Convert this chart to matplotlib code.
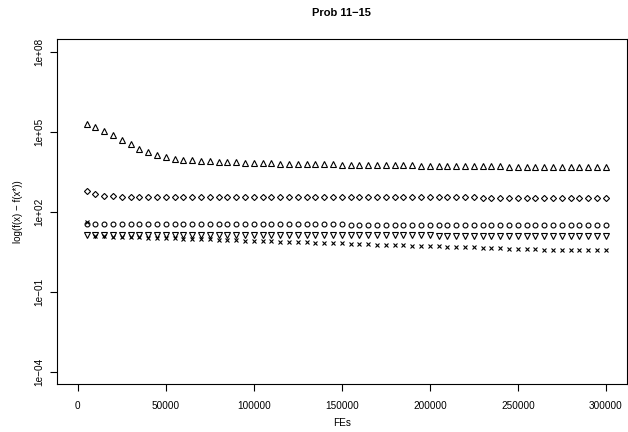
import numpy as np
import matplotlib
matplotlib.use("Agg")
import matplotlib.pyplot as plt

plt.rcParams['font.family'] = ['Liberation Sans', 'DejaVu Sans']

# function evaluations, every 5000 up to 300000
fes = np.arange(5000, 300001, 5000)

# log10 of error per problem
tri_up = [5.31, 5.18, 5.03, 4.88, 4.68, 4.53, 4.37, 4.24, 4.14, 4.06, 4.00, 3.96, 3.93, 3.91,
          3.89, 3.88, 3.87, 3.86, 3.85, 3.84, 3.83, 3.82, 3.81, 3.81, 3.80, 3.79, 3.79, 3.78, 3.78, 3.77,
          3.77, 3.76, 3.76, 3.75, 3.75, 3.74, 3.74, 3.74, 3.73, 3.73, 3.73, 3.72, 3.72, 3.72, 3.71,
          3.71, 3.71, 3.71, 3.70, 3.70, 3.70, 3.70, 3.69, 3.69, 3.69, 3.69, 3.68, 3.68, 3.68, 3.68]
diamond = [2.77, 2.68, 2.60, 2.58, 2.57, 2.57, 2.56, 2.56, 2.56, 2.56] + [2.55] * 20 + [2.54] * 15 + [2.53] * 15
circle = [1.55] * 10 + [1.54] * 10 + [1.53] * 10 + [1.52] * 10 + [1.51] * 10 + [1.50] * 10
tri_down = [1.12] * 20 + [1.11] * 20 + [1.10] * 20
cross = [1.62, 1.10, 1.08, 1.07, 1.06, 1.05, 1.04, 1.03, 1.02, 1.01,
         1.00, 0.99, 0.98, 0.97, 0.96, 0.95, 0.94, 0.93, 0.92, 0.91,
         0.90, 0.89, 0.88, 0.87, 0.86, 0.85, 0.84, 0.83, 0.82, 0.81,
         0.80, 0.79, 0.78, 0.77, 0.76, 0.75, 0.74, 0.73, 0.72, 0.71,
         0.70, 0.69, 0.68, 0.67, 0.66, 0.65, 0.64, 0.63, 0.62, 0.61,
         0.60, 0.59, 0.58, 0.58, 0.57, 0.57, 0.56, 0.56, 0.55, 0.55]

yticks = [1e-4, 1e-1, 1e2, 1e5, 1e8]
ylabels = ["1e\u221204", "1e\u221201", "1e+02", "1e+05", "1e+08"]
xticks = [0, 50000, 100000, 150000, 200000, 250000, 300000]

W, H = 628, 432
fig = plt.figure(figsize=(W / 100, H / 100), dpi=100)
ax = fig.add_axes([56.7 / W, 1 - 384.3 / H, (627 - 56.7) / W, (384.3 - 39.3) / H])

series = [(tri_up, '^', 4.0), (diamond, 'D', 3.1), (circle, 'o', 3.5),
          (tri_down, 'v', 4.0), (cross, 'x', 3.5)]
for vals, m, s in series:
    ax.plot(fes, 10 ** np.array(vals), linestyle='none', marker=m, ms=s,
            mfc='none', mec='black', mew=0.8)

ax.set_yscale('log')
ax.set_xlim(-12000, 312000)
ax.set_ylim(10 ** -4.48, 10 ** 8.48)
ax.minorticks_off()
ax.set_yticks(yticks)
ax.set_yticklabels(ylabels, rotation=90, va='center')
ax.set_xticks(xticks)
ax.set_xticklabels([str(t) for t in xticks])
ax.tick_params(direction='out', length=5, width=0.8, labelsize=7.2, colors='black')
ax.tick_params(axis='x', pad=7)
ax.tick_params(axis='y', pad=4)
for sp in ax.spines.values():
    sp.set_linewidth(0.8)

fig.text(0.5 * (56.7 + 627) / W, 1 - 13 / H, "Prob 11\u221215", ha='center', va='center',
         fontsize=8, fontweight='bold')
fig.text(0.5 * (56.7 + 627) / W, 1 - 423 / H, "FEs", ha='center', va='center', fontsize=7.2)
fig.text(18 / W, 1 - 212 / H, "log(f(x) \u2212 f(x*))", ha='center', va='center',
         rotation=90, fontsize=7)

fig.savefig("out.png", dpi=100)
